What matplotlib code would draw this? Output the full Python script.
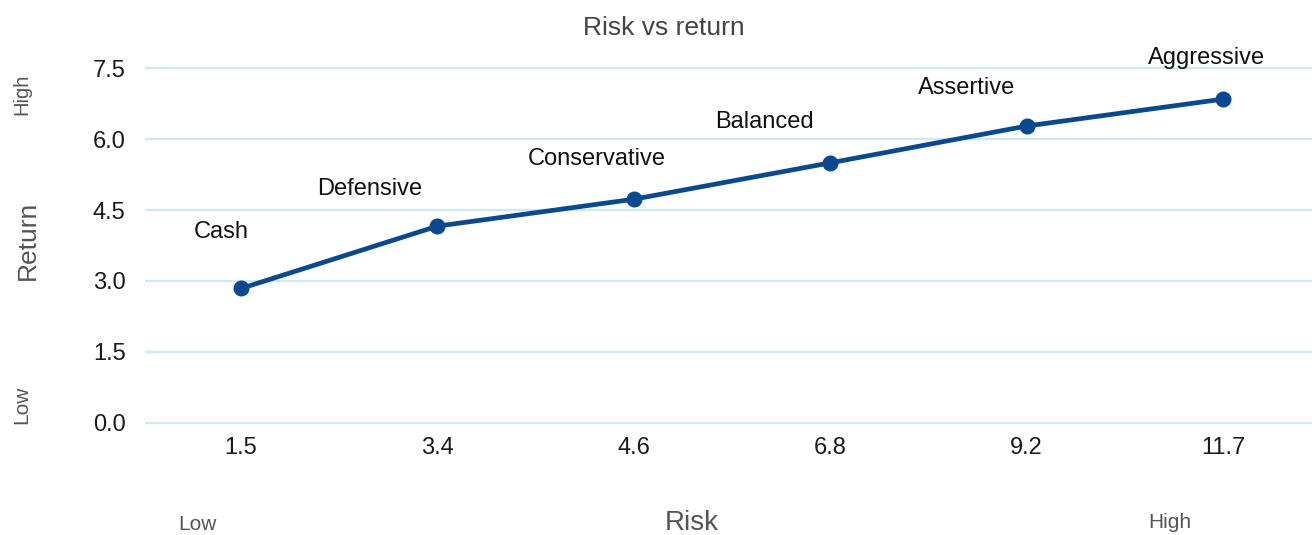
import matplotlib
matplotlib.use("Agg")
import matplotlib.pyplot as plt

plt.rcParams['font.family'] = ['Liberation Sans', 'DejaVu Sans']

# Portfolio profiles: risk (x tick labels) and expected return
profiles = ["Cash", "Defensive", "Conservative", "Balanced", "Assertive", "Aggressive"]
risk_labels = ["1.5", "3.4", "4.6", "6.8", "9.2", "11.7"]
returns = [2.84, 4.16, 4.73, 5.50, 6.28, 6.85]
y_ticks = [0.0, 1.5, 3.0, 4.5, 6.0, 7.5]

# label offsets from each point, in pixels (dx, dy)
label_offsets = [(-20, 56), (-68, 37), (-37, 40), (-66, 41), (-60, 38), (-17, 41)]

W, H = 1312, 535
fig = plt.figure(figsize=(W / 100, H / 100), dpi=100)
ax = fig.add_axes([145 / W, 111 / H, 1 - 145 / W, (424 - 67) / H])

line_color = "#0a4890"
x = list(range(len(profiles)))
ax.plot(x, returns, color=line_color, lw=3.4, marker="o", markersize=10.5,
        solid_capstyle="round", zorder=3, clip_on=False)

for xi, yi, name, (dx, dy) in zip(x, returns, profiles, label_offsets):
    ax.annotate(name, (xi, yi), xytext=(dx * 0.72, dy * 0.72), textcoords="offset points",
                ha="center", va="center", fontsize=17, color="#111111",
                annotation_clip=False)

ax.set_xlim(-0.489, 5.453)
ax.set_ylim(-0.03, 7.53)
ax.set_xticks(x)
ax.set_xticklabels(risk_labels)
ax.set_yticks(y_ticks)
ax.set_yticklabels([f"{v:.1f}" for v in y_ticks])
ax.tick_params(axis="both", length=0, labelsize=17, labelcolor="#1a1a1a")
ax.tick_params(axis="x", pad=9)
ax.tick_params(axis="y", pad=14)

ax.grid(axis="y", color="#cfe8f6", lw=1.6)
ax.set_axisbelow(True)
for s in ax.spines.values():
    s.set_visible(False)

def px(xp, yp):
    return xp / W, 1 - yp / H

fig.text(*px(664, 28), "Risk vs return", ha="center", va="center", fontsize=19, color="#444444")
fig.text(*px(28, 240), "Return", ha="center", va="center", rotation=90, fontsize=19, color="#555555")
fig.text(*px(22, 94), "High", ha="center", va="center", rotation=90, fontsize=14.5, color="#555555")
fig.text(*px(22, 405), "Low", ha="center", va="center", rotation=90, fontsize=15, color="#555555")
fig.text(*px(692, 523), "Risk", ha="center", va="center", fontsize=20, color="#555555")
fig.text(*px(197, 525), "Low", ha="center", va="center", fontsize=15, color="#555555")
fig.text(*px(1170, 523), "High", ha="center", va="center", fontsize=15, color="#555555")

fig.savefig("out.png", dpi=100)
